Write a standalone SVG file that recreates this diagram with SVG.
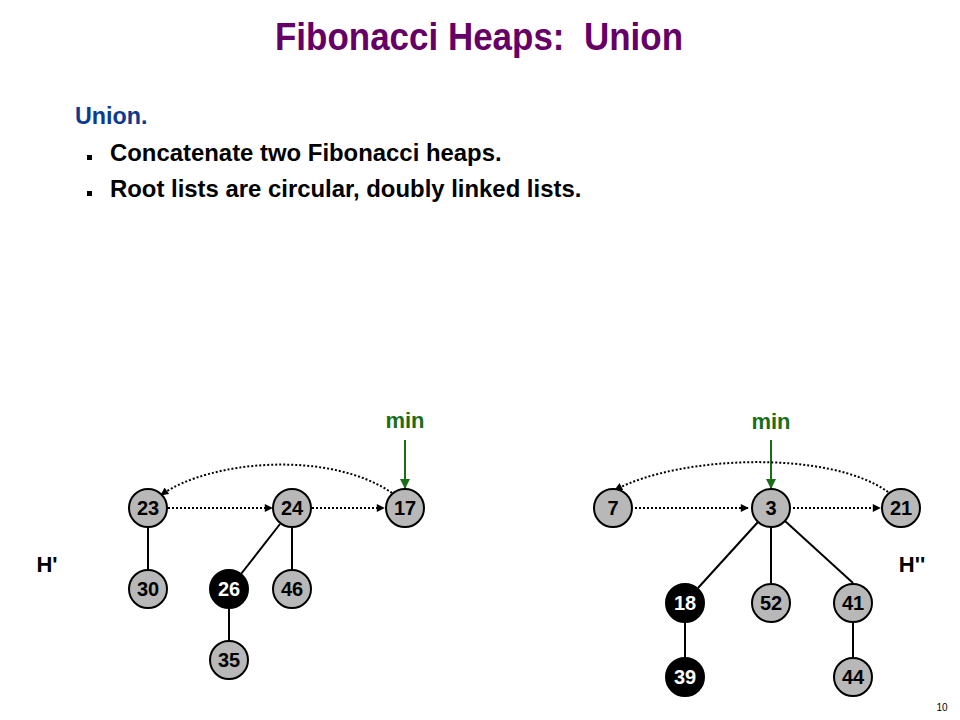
<svg xmlns="http://www.w3.org/2000/svg" width="960" height="720" viewBox="0 0 960 720">
<defs>
<style>
.t{font-family:"Liberation Sans",Arial,sans-serif;font-weight:bold}
.n circle{fill:#b8b8b8;stroke:#000;stroke-width:2}
.n text{font-family:"Liberation Sans",Arial,sans-serif;font-weight:bold;font-size:20px;text-anchor:middle;fill:#000}
.b circle{fill:#000}
.b text{fill:#fff}
.dot{fill:none;stroke:#000;stroke-width:2;stroke-dasharray:2 2;marker-end:url(#ah)}
.edge{stroke:#000;stroke-width:2;fill:none}
.g{stroke:#1a6e1a;stroke-width:2;fill:none;marker-end:url(#gh)}
</style>
<marker id="ah" viewBox="0 0 10 10" refX="9" refY="5" markerWidth="9" markerHeight="8" orient="auto" markerUnits="userSpaceOnUse">
<path d="M0,0 L10,5 L0,10 z" fill="#000"/>
</marker>
<marker id="gh" viewBox="0 0 10 10" refX="9" refY="5" markerWidth="10" markerHeight="10" orient="auto" markerUnits="userSpaceOnUse">
<path d="M0,0 L10,5 L0,10 z" fill="#1a6e1a"/>
</marker>
</defs>
<rect width="960" height="720" fill="#fff"/>
<text class="t" x="275" y="50" font-size="38" fill="#660066" style="white-space:pre" textLength="408" lengthAdjust="spacingAndGlyphs">Fibonacci Heaps:  Union</text>
<text class="t" x="75" y="124" font-size="23.3" fill="#0b3a8f">Union.</text>
<rect x="87" y="155" width="5" height="5" fill="#000"/>
<text class="t" x="110" y="161" font-size="23.9" fill="#000">Concatenate two Fibonacci heaps.</text>
<rect x="87" y="191" width="5" height="5" fill="#000"/>
<text class="t" x="110" y="197" font-size="23.9" fill="#000">Root lists are circular, doubly linked lists.</text>
<text class="t" x="47" y="572" font-size="22" fill="#000" text-anchor="middle">H'</text>
<text class="t" x="912" y="572" font-size="22" fill="#000" text-anchor="middle">H''</text>
<text class="t" x="405" y="428" font-size="22" fill="#1a6e1a" text-anchor="middle">min</text>
<text class="t" x="771" y="429" font-size="22" fill="#1a6e1a" text-anchor="middle">min</text>
<text x="942" y="711" font-family="Liberation Sans,Arial,sans-serif" font-size="10" fill="#000" text-anchor="middle">10</text>
<g id="connectors">
<path class="g" d="M405,440 V488"/>
<path class="g" d="M771,440 V488"/>
<path class="dot" d="M168,508 H272"/>
<path class="dot" d="M312,508 H384"/>
<path class="dot" d="M392,493 C330,450 210,460 161,495"/>
<path class="dot" d="M635,508 H748"/>
<path class="dot" d="M793,508 H880"/>
<path class="dot" d="M888,492 C830,450 680,455 615,490"/>
<path class="edge" d="M148,527 V570"/>
<path class="edge" d="M280,524 L241,574"/>
<path class="edge" d="M292,527 V570"/>
<path class="edge" d="M229,608 V641"/>
<path class="edge" d="M758,522 L698,588"/>
<path class="edge" d="M771,527 V583"/>
<path class="edge" d="M785,521 L853,583"/>
<path class="edge" d="M685,622 V658"/>
<path class="edge" d="M853,622 V658"/>
</g>
<g id="n23" class="n"><circle cx="148" cy="508" r="19"/><text x="148" y="515">23</text></g>
<g id="n24" class="n"><circle cx="292" cy="508" r="19"/><text x="292" y="515">24</text></g>
<g id="n17" class="n"><circle cx="405" cy="508" r="19"/><text x="405" y="515">17</text></g>
<g id="n30" class="n"><circle cx="148" cy="589" r="19"/><text x="148" y="596">30</text></g>
<g id="n26" class="n b"><circle cx="229" cy="589" r="19"/><text x="229" y="596">26</text></g>
<g id="n46" class="n"><circle cx="292" cy="589" r="19"/><text x="292" y="596">46</text></g>
<g id="n35" class="n"><circle cx="229" cy="660" r="19"/><text x="229" y="667">35</text></g>
<g id="n7" class="n"><circle cx="613" cy="508" r="19"/><text x="613" y="515">7</text></g>
<g id="n3" class="n"><circle cx="771" cy="508" r="19"/><text x="771" y="515">3</text></g>
<g id="n21" class="n"><circle cx="901" cy="508" r="19"/><text x="901" y="515">21</text></g>
<g id="n18" class="n b"><circle cx="685" cy="603" r="19"/><text x="685" y="610">18</text></g>
<g id="n52" class="n"><circle cx="771" cy="603" r="19"/><text x="771" y="610">52</text></g>
<g id="n41" class="n"><circle cx="853" cy="603" r="19"/><text x="853" y="610">41</text></g>
<g id="n39" class="n b"><circle cx="685" cy="677" r="19"/><text x="685" y="684">39</text></g>
<g id="n44" class="n"><circle cx="853" cy="677" r="19"/><text x="853" y="684">44</text></g>
</svg>
